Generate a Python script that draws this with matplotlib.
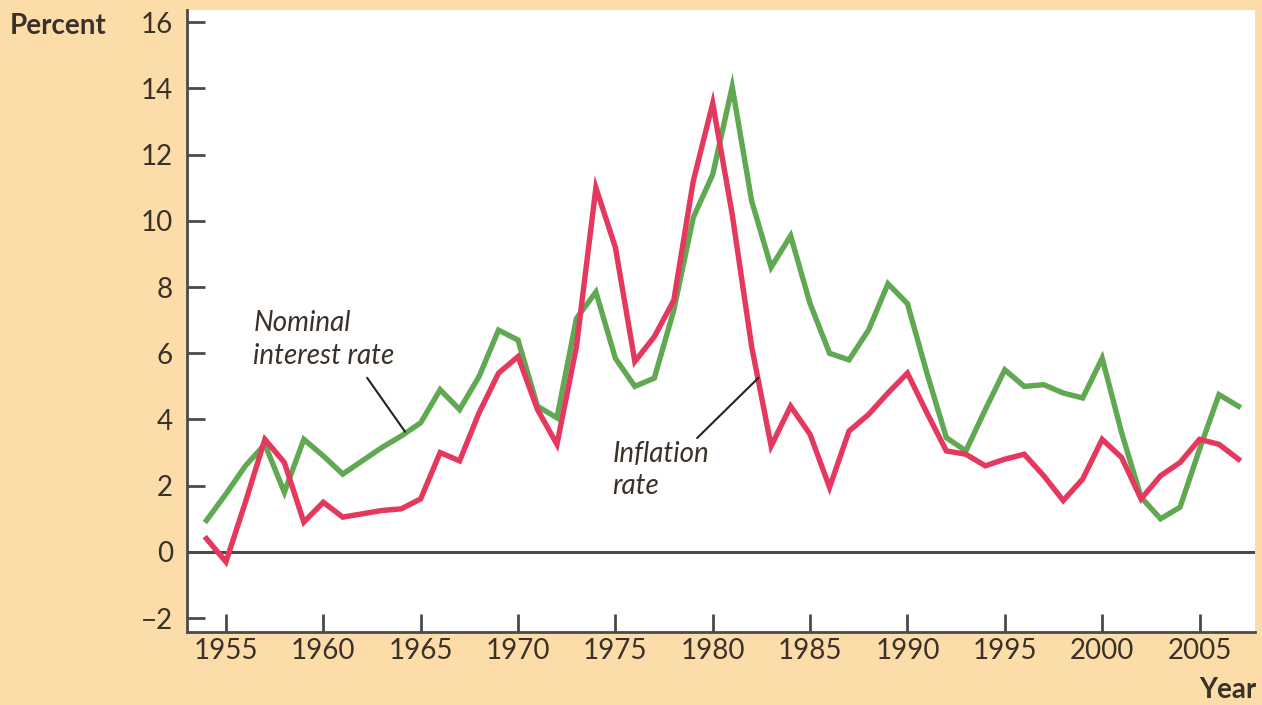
import matplotlib
matplotlib.use("Agg")
import matplotlib.pyplot as plt

years = list(range(1954, 2008))

nominal_rate = [0.95, 1.75, 2.6, 3.25, 1.8, 3.4, 2.9, 2.35, 2.75, 3.15, 3.5, 3.9,
                4.9, 4.3, 5.3, 6.7, 6.4, 4.4, 4.05, 7.05, 7.85, 5.85, 5.0, 5.25,
                7.3, 10.1, 11.4, 14.05, 10.6, 8.6, 9.55, 7.5, 6.0, 5.8, 6.7, 8.1,
                7.5, 5.4, 3.45, 3.05, 4.3, 5.5, 5.0, 5.05, 4.8, 4.65, 5.85, 3.6,
                1.65, 1.0, 1.35, 3.1, 4.75, 4.4]

inflation_rate = [0.4, -0.3, 1.5, 3.4, 2.7, 0.9, 1.5, 1.05, 1.15, 1.25, 1.3, 1.6,
                  3.0, 2.75, 4.2, 5.4, 5.9, 4.3, 3.25, 6.2, 11.0, 9.2, 5.75, 6.5,
                  7.6, 11.2, 13.55, 10.2, 6.2, 3.2, 4.4, 3.55, 1.95, 3.65, 4.15, 4.8,
                  5.4, 4.2, 3.05, 2.95, 2.6, 2.8, 2.95, 2.3, 1.55, 2.2, 3.4, 2.85,
                  1.6, 2.3, 2.7, 3.4, 3.25, 2.8]

y_ticks = [-2, 0, 2, 4, 6, 8, 10, 12, 14, 16]
x_ticks = [1955, 1960, 1965, 1970, 1975, 1980, 1985, 1990, 1995, 2000, 2005]

BG = "#FCDDA9"
TXT = "#3a3129"
RED = "#E5385E"
GREEN = "#60A952"
FONT = "Lato"

fig = plt.figure(figsize=(12.62, 7.05), dpi=100, facecolor=BG)
ax = fig.add_axes([187/1262, 1-632/705, (1255-187)/1262, (632-10)/705])
ax.set_facecolor("white")

ax.axhline(0, color="#4a4a4a", lw=2.2, zorder=1)
ax.plot(years, inflation_rate, color=RED, lw=3.9, solid_joinstyle="miter", zorder=3)
ax.plot(years, nominal_rate, color=GREEN, lw=3.9, solid_joinstyle="miter", zorder=2)

ax.set_xlim(1953.0, 2007.85)
ax.set_ylim(-2.42, 16.37)

for s in ["top", "right"]:
    ax.spines[s].set_visible(False)
for s in ["left", "bottom"]:
    ax.spines[s].set_color("#4a4a4a")
    ax.spines[s].set_linewidth(2)

ax.set_yticks(y_ticks)
ax.set_yticklabels([str(v).replace("-", "\u2212") for v in y_ticks])
ax.set_xticks(x_ticks)
ax.set_xticklabels([str(v) for v in x_ticks])
ax.tick_params(axis="both", direction="in", length=13, width=2, color="#4a4a4a",
               labelsize=20, labelcolor=TXT)
ax.tick_params(axis="y", pad=10)
ax.tick_params(axis="x", pad=4)
for lab in ax.get_xticklabels() + ax.get_yticklabels():
    lab.set_fontfamily(FONT)

fig.text(10/1262, 1-26/705, "Percent", fontsize=20, fontweight="bold",
         color=TXT, family=FONT, ha="left", va="center")
fig.text(1256/1262, 1-690/705, "Year", fontsize=20, fontweight="bold",
         color=TXT, family=FONT, ha="right", va="center")

# annotations
ax.text(1956.4, 7.3, "Nominal\ninterest rate", fontsize=20, style="italic",
        color=TXT, family=FONT, ha="left", va="top", linespacing=1.3)
ax.annotate("", xy=(1964.2, 3.63), xytext=(1962.25, 5.26),
            arrowprops=dict(arrowstyle="-", color="#222222", lw=1.5,
                            shrinkA=0, shrinkB=0))
ax.text(1974.85, 3.35, "Inflation\nrate", fontsize=20, style="italic",
        color=TXT, family=FONT, ha="left", va="top", linespacing=1.3)
ax.annotate("", xy=(1982.35, 5.26), xytext=(1979.2, 3.44),
            arrowprops=dict(arrowstyle="-", color="#222222", lw=1.5,
                            shrinkA=0, shrinkB=0))

fig.savefig("out.png", dpi=100, facecolor=BG)
